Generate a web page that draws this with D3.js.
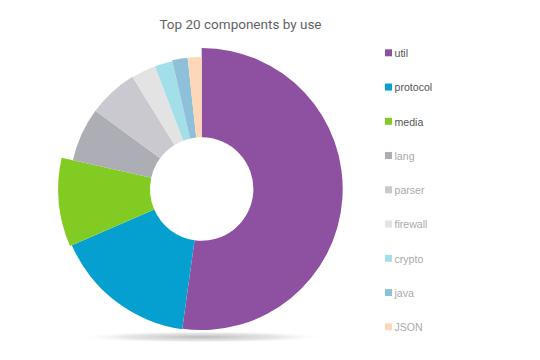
<!DOCTYPE html>
<html>
<head>
<meta charset="utf-8">
<script src="https://cdn.jsdelivr.net/npm/d3@7"></script>
<style>
html,body{margin:0;padding:0;background:#fff;}
svg{display:block;}
</style>
</head>
<body>
<svg id="chart" width="540" height="360"></svg>
<script>
// ---- data ----
const categories = ["util","protocol","media","lang","parser","firewall","crypto","java","JSON"];
const values = [52.2, 16.3, 10.0, 6.6, 6.1, 3.0, 2.2, 1.9, 1.7];
const title = "Top 20 components by use";

// ---- styles ----
const colors = ["#8e50a0","#06a0d0","#82cb22","#adadb5","#c9c9cf","#e3e3e3","#a3dfe8","#8fc0da","#fcd8b8"];
const outerRadii = [141, 141.5, 143.5, 132, 132, 131.5, 131, 132, 132];
const legendTextColors = ["#555","#555","#555","#aaa","#aaa","#aaa","#aaa","#aaa","#aaa"];

const svg = d3.select("#chart");
const cx = 201.7, cy = 189, innerR = 51.7;

// shadow
const defs = svg.append("defs");
const grad = defs.append("radialGradient").attr("id","shadow");
grad.append("stop").attr("offset","0%").attr("stop-color","#8f8f8f").attr("stop-opacity",0.6);
grad.append("stop").attr("offset","60%").attr("stop-color","#b5b5b5").attr("stop-opacity",0.35);
grad.append("stop").attr("offset","100%").attr("stop-color","#ffffff").attr("stop-opacity",0);
svg.append("ellipse").attr("cx",cx).attr("cy",337).attr("rx",125).attr("ry",6).attr("fill","url(#shadow)");

// title
svg.append("text").attr("x",240.5).attr("y",29).attr("text-anchor","middle")
  .attr("font-family","Roboto, 'Open Sans', sans-serif").attr("font-size",13.5)
  .attr("fill","#5f6368").text(title);

const data = categories.map((c,i)=>({name:c, value:values[i], i}));
const pie = d3.pie().value(d=>d.value).sort(null);
const arcs = pie(data);

const g = svg.append("g").attr("transform",`translate(${cx},${cy})`);
g.selectAll("path").data(arcs).join("path")
  .attr("d", d => d3.arc().innerRadius(innerR).outerRadius(outerRadii[d.data.i])(d))
  .attr("fill", d => colors[d.data.i]);

// legend
const ly = d3.scalePoint().domain(categories).range([53.3, 327.3]);
const leg = svg.append("g");
const items = leg.selectAll("g").data(categories).join("g")
  .attr("transform", d => `translate(385,${ly(d)})`);
items.append("rect").attr("x",0).attr("y",-4).attr("width",7).attr("height",7)
  .attr("fill",(d,i)=>colors[i]);
items.append("text").attr("x",9.5).attr("y",0).attr("dy","0.35em")
  .attr("font-family","'Liberation Sans', Arial, sans-serif").attr("font-size",10.6)
  .attr("fill",(d,i)=>legendTextColors[i]).text(d=>d);
</script>
</body>
</html>
